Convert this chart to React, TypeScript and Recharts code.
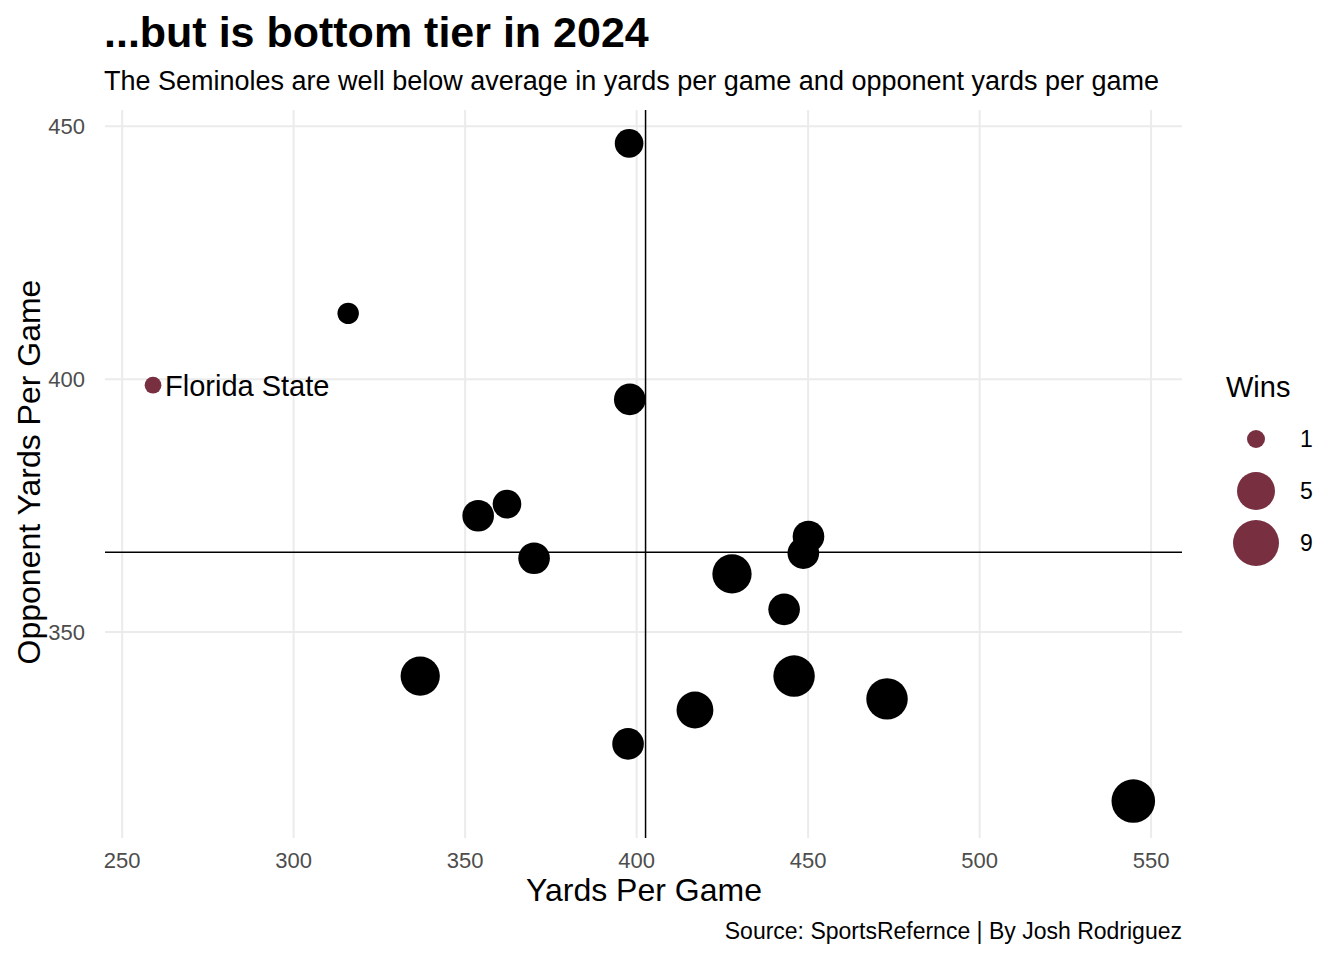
import { CartesianGrid, ReferenceLine, Scatter, ScatterChart, XAxis, YAxis } from "recharts";

const teams = [
  { x: 397.8, y: 446.6, wins: 5 },
  { x: 315.9, y: 413.0, wins: 3 },
  { x: 398.0, y: 396.0, wins: 6 },
  { x: 353.8, y: 373.0, wins: 6 },
  { x: 362.2, y: 375.3, wins: 5 },
  { x: 370.1, y: 364.6, wins: 6 },
  { x: 450.1, y: 368.9, wins: 6 },
  { x: 448.6, y: 365.6, wins: 6 },
  { x: 427.8, y: 361.5, wins: 9 },
  { x: 443.0, y: 354.5, wins: 6 },
  { x: 336.9, y: 341.3, wins: 9 },
  { x: 445.9, y: 341.3, wins: 10 },
  { x: 473.0, y: 336.8, wins: 10 },
  { x: 417.0, y: 334.6, wins: 8 },
  { x: 397.5, y: 327.9, wins: 6 },
  { x: 544.8, y: 316.6, wins: 11 },
];
const fsu = [{ x: 259.0, y: 398.8, wins: 2, name: "Florida State" }];
const avgYards = 402.6;
const avgOpp = 365.8;
const xTicks = [250, 300, 350, 400, 450, 500, 550];
const yTicks = [350, 400, 450];
const legendWins = [1, 5, 9];

const garnet = "#782F40";
const font = "'Liberation Sans', Arial, sans-serif";
const rad = (w: number) => Math.sqrt(Math.max(45 * w - 20, 16));

export default function App() {
  return (
    <div style={{ position: "absolute", left: 0, top: 0, width: 1344, height: 960, background: "#fff", fontFamily: font }}>
      <div style={{ position: "absolute", left: 104, top: 8, fontSize: 43, fontWeight: 700 }}>...but is bottom tier in 2024</div>
      <div style={{ position: "absolute", left: 104, top: 66, fontSize: 27 }}>
        The Seminoles are well below average in yards per game and opponent yards per game
      </div>
      <ScatterChart width={1344} height={960} margin={{ left: 45, right: 162, top: 110, bottom: 92 }}>
        <CartesianGrid stroke="#ebebeb" strokeWidth={2} syncWithTicks
          horizontalPoints={undefined} />
        <XAxis type="number" dataKey="x" domain={[245, 559]} ticks={xTicks} axisLine={false} tickLine={false}
          height={30} tick={{ fill: "#4d4d4d", fontSize: 22, fontFamily: font }} tickMargin={8} />
        <YAxis type="number" dataKey="y" domain={[309.3, 453.2]} ticks={yTicks} axisLine={false} tickLine={false}
          width={60} tick={{ fill: "#4d4d4d", fontSize: 22, fontFamily: font }} tickMargin={14} />
        <ReferenceLine x={avgYards} stroke="#000" strokeWidth={1.5} />
        <ReferenceLine y={avgOpp} stroke="#000" strokeWidth={1.5} />
        <Scatter data={teams} isAnimationActive={false}
          shape={(p: any) => <circle cx={p.cx} cy={p.cy} r={rad(p.payload.wins)} fill="#000" />} />
        <Scatter data={fsu} isAnimationActive={false}
          shape={(p: any) => (
            <g>
              <circle cx={p.cx} cy={p.cy} r={rad(p.payload.wins)} fill={garnet} />
              <text x={p.cx + 12} y={p.cy + 11} fontSize={29} fontFamily={font} fill="#000">{p.payload.name}</text>
            </g>
          )} />
      </ScatterChart>
      <div style={{ position: "absolute", left: 0, top: 0, width: 1344, height: 960, pointerEvents: "none" }}>
        <div style={{ position: "absolute", left: 526, top: 872, fontSize: 32 }}>Yards Per Game</div>
        <div style={{ position: "absolute", left: 29, top: 472, fontSize: 32, transform: "translate(-50%,-50%) rotate(-90deg)", whiteSpace: "nowrap" }}>
          Opponent Yards Per Game
        </div>
        <div style={{ position: "absolute", right: 162, top: 918, fontSize: 23 }}>Source: SportsRefernce | By Josh Rodriguez</div>
        <div style={{ position: "absolute", left: 1226, top: 371, fontSize: 29 }}>Wins</div>
        {legendWins.map((w, i) => (
          <div key={w}>
            <svg style={{ position: "absolute", left: 1226, top: 414 + i * 52 }} width={60} height={50}>
              <circle cx={30} cy={25} r={[9, 19, 23][i]} fill={garnet} />
            </svg>
            <div style={{ position: "absolute", left: 1300, top: 426 + i * 52, fontSize: 23 }}>{w}</div>
          </div>
        ))}
      </div>
    </div>
  );
}
